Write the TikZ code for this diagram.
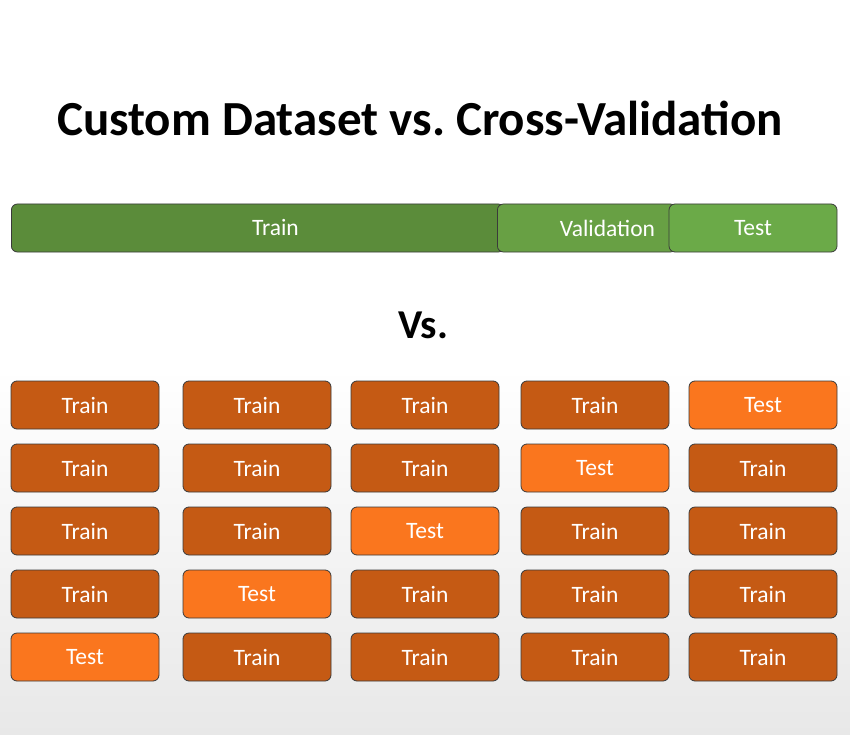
\documentclass[tikz,border=0pt]{standalone}
\usepackage{fontspec}
\setmainfont{Carlito}
\frenchspacing
\definecolor{trainG}{HTML}{5B8C3A}
\definecolor{valG}{HTML}{68A044}
\definecolor{testG}{HTML}{6BAA48}
\definecolor{trainO}{HTML}{C55A14}
\definecolor{testO}{HTML}{FA761E}
\definecolor{edge}{HTML}{3A3A3A}
\tikzset{
  seg/.style={draw=edge, line width=0.8pt, rounded corners=6pt, minimum height=48pt, inner sep=0pt, text=white, font=\fontsize{23.5}{26}\selectfont},
  cell/.style={draw=edge, line width=0.8pt, rounded corners=6pt, minimum width=148pt, minimum height=48pt, inner sep=0pt, text=white, font=\fontsize{23.5}{26}\selectfont},
  trainbox/.style={cell, fill=trainO},
  testbox/.style={cell, fill=testO},
}
\begin{document}
\begin{tikzpicture}[x=1pt,y=-1pt]
\shade[top color=white, bottom color=black!9, middle color=white] (0,0) rectangle (850,735);
\useasboundingbox (0,0) rectangle (850,735);
\node[font=\bfseries\fontsize{49}{54}\selectfont] (title) at (420,118) {Custom Dataset vs. Cross-Validation};
\node[seg, fill=trainG, minimum width=493pt, anchor=west] (tr) at (11,228) {\hspace*{35pt}Train};
\node[seg, fill=valG, minimum width=179pt, anchor=west] (va) at (497,228) {\hspace*{41pt}Validation};
\node[seg, fill=testG, minimum width=168pt] (te) at (753,228) {Test};
\node[font=\bfseries\fontsize{41}{46}\selectfont] (vs) at (423,325) {Vs.};
\foreach \r/\y in {1/405,2/468,3/531,4/594,5/657}{
  \foreach \c/\x in {1/85,2/257,3/425,4/595,5/763}{
    \pgfmathtruncatemacro{\t}{6-\r}
    \ifnum\c=\t
      \node[testbox] (g\r\c) at (\x,\y) {Test};
    \else
      \node[trainbox] (g\r\c) at (\x,\y) {Train};
    \fi
  }
}
\end{tikzpicture}
\end{document}
